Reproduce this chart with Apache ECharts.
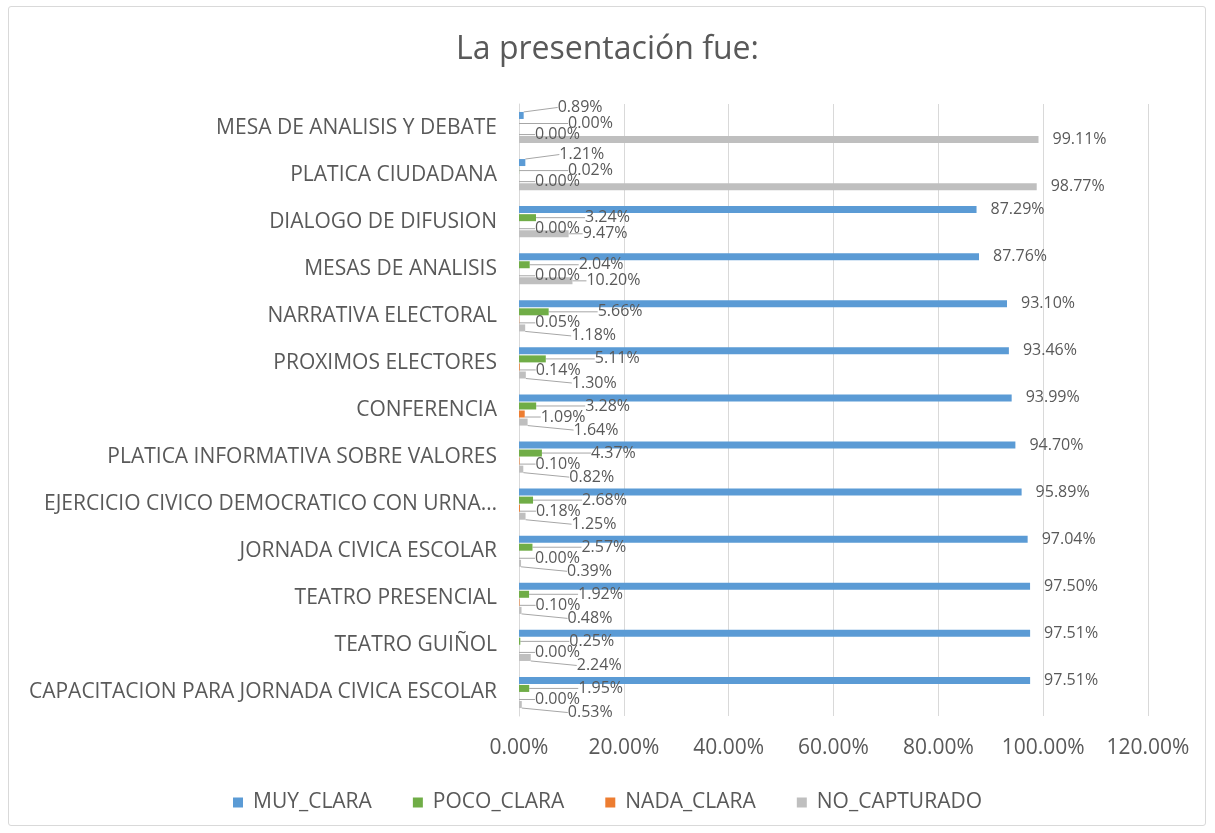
<!DOCTYPE html>
<html><head><meta charset="utf-8">
<script src="https://cdn.jsdelivr.net/npm/echarts@6/dist/echarts.min.js"></script>
<style>
html,body{margin:0;padding:0;background:#fff;}
#frame{position:absolute;left:8px;top:6px;width:1198px;height:820px;border:1px solid #d9d9d9;border-radius:3px;box-sizing:border-box;}
#main{position:absolute;left:0;top:0;width:1215px;height:833px;}
</style></head>
<body><div id="frame"></div><div id="main"></div>
<script>
// categories bottom to top
const categories = [
  "CAPACITACION PARA JORNADA CIVICA ESCOLAR",
  "TEATRO GUIÑOL",
  "TEATRO PRESENCIAL",
  "JORNADA CIVICA ESCOLAR",
  "EJERCICIO CIVICO DEMOCRATICO CON URNA…",
  "PLATICA INFORMATIVA SOBRE VALORES",
  "CONFERENCIA",
  "PROXIMOS ELECTORES",
  "NARRATIVA ELECTORAL",
  "MESAS DE ANALISIS",
  "DIALOGO DE DIFUSION",
  "PLATICA CIUDADANA",
  "MESA DE ANALISIS Y DEBATE"
];
const muyClara    = [97.51, 97.51, 97.50, 97.04, 95.89, 94.70, 93.99, 93.46, 93.10, 87.76, 87.29, 1.21, 0.89];
const pocoClara   = [1.95, 0.25, 1.92, 2.57, 2.68, 4.37, 3.28, 5.11, 5.66, 2.04, 3.24, 0.02, 0.00];
const nadaClara   = [0.00, 0.00, 0.10, 0.00, 0.18, 0.10, 1.09, 0.14, 0.05, 0.00, 0.00, 0.00, 0.00];
const noCapturado = [0.53, 2.24, 0.48, 0.39, 1.25, 0.82, 1.64, 1.30, 1.18, 10.20, 9.47, 98.77, 99.11];
const seriesNames = ["MUY_CLARA", "POCO_CLARA", "NADA_CLARA", "NO_CAPTURADO"];
const xTicks = [0, 20, 40, 60, 80, 100, 120];

const FONT = "'Open Sans', 'Noto Sans', sans-serif";
const TXT = '#595959';
const colors = {MUY_CLARA:'#5b9bd5', POCO_CLARA:'#70ad47', NADA_CLARA:'#ed7d31', NO_CAPTURADO:'#bfbfbf'};

// bars that are long get a plain label, short ones get a leader line
function items(data) {
  return data.map(v => v > 50 ? {value: v, labelLine: {show: false}} : {value: v});
}

function mkSeries(name, data, labelDist, layout) {
  return {
    name: name, type: 'bar', data: items(data),
    barWidth: 7, barGap: '15%',
    itemStyle: {color: colors[name]},
    label: {show: true, position: 'right', distance: labelDist,
      formatter: p => p.value.toFixed(2) + '%',
      fontFamily: FONT, fontSize: 16, color: TXT},
    labelLine: {show: true, lineStyle: {color: '#a6a6a6', width: 1}},
    labelLayout: layout
  };
}

const chart = echarts.init(document.getElementById('main'));
chart.setOption({
  animation: false,
  title: {text: 'La presentación fue:', left: 'center', top: 29,
    textStyle: {fontFamily: FONT, fontSize: 32, fontWeight: 'normal', color: TXT}},
  legend: {data: seriesNames, top: 787, left: 'center', itemWidth: 10, itemHeight: 10, itemGap: 41,
    icon: 'rect', textStyle: {fontFamily: FONT, fontSize: 21, color: TXT, padding: [0, 0, 0, 5]}},
  grid: {left: 519, right: 67, top: 104, bottom: 117},
  xAxis: {type: 'value', min: xTicks[0], max: xTicks[xTicks.length-1], interval: 20,
    axisLabel: {formatter: v => v.toFixed(2) + '%', fontFamily: FONT, fontSize: 21, color: TXT, margin: 22},
    splitLine: {lineStyle: {color: '#d9d9d9'}},
    axisLine: {show: false}, axisTick: {show: false}},
  yAxis: {type: 'category', data: categories,
    axisLabel: {fontFamily: FONT, fontSize: 21, color: TXT, margin: 22},
    axisLine: {show: true, lineStyle: {color: '#d9d9d9'}}, axisTick: {show: false}},
  series: [
    mkSeries('MUY_CLARA', muyClara, 14, p => (p.rect.width < 30 ? {dx: 20, dy: -8} : {})),
    mkSeries('POCO_CLARA', pocoClara, 4, {dx: 45, dy: 0}),
    mkSeries('NADA_CLARA', nadaClara, 4, {dx: 12, dy: 3}),
    mkSeries('NO_CAPTURADO', noCapturado, 14, p => (p.rect.width < 30 ? {dx: 32, dy: 8} : {}))
  ]
});
</script></body></html>
